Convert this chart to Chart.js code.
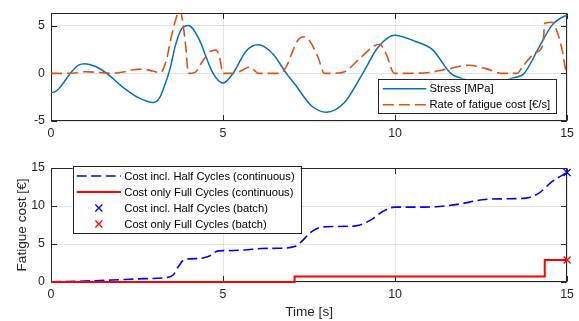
<!DOCTYPE html>
<html><head><meta charset="utf-8">
<script src="https://cdn.jsdelivr.net/npm/chart.js@4"></script>
<style>
html,body{margin:0;padding:0;background:#fff;}
#wrap{position:relative;width:579px;height:321px;overflow:hidden;}
canvas{position:absolute;left:0;}
#c1{top:0}
#c2{top:150px}
</style></head><body>
<div id="wrap"><canvas id="c1" width="579" height="150"></canvas><canvas id="c2" width="579" height="171"></canvas></div>
<script>
// ---- data ----
const timeStress = [0,0.15,0.32,0.56,0.8,0.99,1.28,1.62,2.06,2.54,2.97,3.15,3.3,3.46,3.62,3.8,3.99,4.33,4.5,4.71,5.0,5.29,5.68,6.02,6.45,6.84,7.1,7.57,8.0,8.53,9.06,9.5,9.98,10.56,11.1,11.62,12.06,12.7,13.4,13.75,14.18,14.57,14.96,15];
const stress     = [-2.04,-1.85,-1.2,0,0.86,1.02,0.75,0,-1.36,-2.55,-3.06,-2.6,-1.3,0.5,3.0,4.7,5.04,3.4,1.8,0,-1.02,0,2.39,3.0,2.04,0,-1.2,-3.4,-4.08,-3.06,0,2.72,4.02,3.4,2.45,0,-0.65,-1.3,-0.5,0,2.72,5.1,6.06,6.08];

const timeRate = [0,0.6,1.0,1.4,1.75,2.1,2.4,2.65,2.95,3.17,3.36,3.5,3.65,3.75,3.84,3.92,3.99,4.18,4.42,4.67,4.8,4.9,5.0,5.34,5.54,5.78,5.92,6.02,6.65,6.85,7.03,7.18,7.33,7.52,7.76,7.95,8.3,8.53,9.01,9.4,9.55,9.74,9.98,10.6,10.99,11.57,12.15,12.64,13.12,13.55,13.7,14.09,14.3,14.35,14.57,14.67,14.86,14.96,15];
const rate     = [0,0.02,0.18,0.1,0.02,0.15,0.38,0.45,0.25,0.05,1.5,3.9,5.96,6.6,5.1,2.7,0,0.1,1.36,2.39,2.45,1.7,0,0,0.3,0.68,0.3,0,0,0.8,2.4,3.5,3.85,3.4,1.7,0,0.03,0.17,1.7,2.9,3.06,2.04,0,0.02,0.1,0.5,0.86,0.5,0,0,0.68,2.2,3.06,5.27,5.37,4.77,2.4,0.34,0];

const timeHalf = [0,0.8,1.77,2.73,3.41,3.55,3.7,3.89,4.28,4.57,4.86,5.15,5.63,6.12,6.6,7.08,7.28,7.52,7.8,8.19,8.86,9.3,9.64,9.98,10.61,11.28,11.86,12.54,13.22,13.8,14.18,14.57,15];
const costHalf = [0.04,0.1,0.26,0.44,0.62,0.92,2.0,2.99,3.08,3.34,4.09,4.13,4.22,4.4,4.44,4.66,5.32,6.42,7.16,7.3,7.39,8.18,9.27,9.85,9.85,9.94,10.25,10.82,10.95,11.04,11.7,13.23,14.4];

const timeFull = [0,7.08,14.35,15];
const costFull = [0,0.72,2.9,2.9];

const batchTime = 15;
const batchHalf = 14.4;
const batchFull = 2.9;

const xTicks = [0,5,10,15];
const yTicksTop = [-5,0,5];
const yTicksBottom = [0,5,10,15];

// ---- styling / helpers ----
const FONT = '"Liberation Sans", Arial, Helvetica, sans-serif';
Chart.defaults.font.family = FONT;
Chart.defaults.color = '#262626';
const AX = '#262626';
const GRID = 'rgba(38,38,38,0.13)';
const pts = (xs, ys) => xs.map((x, i) => ({x: x, y: ys[i]}));

const boxPlugin = {
  id: 'matlabBox',
  beforeDatasetsDraw(chart) {
    const ctx = chart.ctx, a = chart.chartArea, sx = chart.scales.x, sy = chart.scales.y;
    const L = Math.round(a.left) + 0.5, R = Math.round(a.right) - 0.5;
    const T = Math.round(a.top) + 0.5, B = Math.round(a.bottom) - 0.5;
    const tl = 5.5;
    ctx.save();
    ctx.strokeStyle = AX; ctx.lineWidth = 1;
    ctx.beginPath();
    sx.ticks.forEach(t => {
      const p = Math.round(sx.getPixelForValue(t.value)) + 0.5;
      ctx.moveTo(p, B); ctx.lineTo(p, B - tl);
      ctx.moveTo(p, T); ctx.lineTo(p, T + tl);
    });
    sy.ticks.forEach(t => {
      const p = Math.round(sy.getPixelForValue(t.value)) + 0.5;
      ctx.moveTo(L, p); ctx.lineTo(L + tl, p);
      ctx.moveTo(R, p); ctx.lineTo(R - tl, p);
    });
    ctx.stroke();
    ctx.strokeRect(L, T, R - L, B - T);
    ctx.restore();
  }
};

const legendCfg = {
  c1: {
    anchor: 'right', dx: 11.3, dy: 8.3, width: 178, height: 34,
    firstRow: 10, rowGap: 16, sample: [5, 48.5], textX: 51.7,
    items: [
      {type: 'line', color: '#0072BD', width: 1.5, dash: [], text: 'Stress [MPa]'},
      {type: 'line', color: '#D95319', width: 1.6, dash: [11, 5], text: 'Rate of fatigue cost [€/s]'}
    ]
  },
  c2: {
    anchor: 'left', dx: 21.7, dy: -2.3, width: 228, height: 67,
    firstRow: 10.3, rowGap: 16, sample: [4, 48.3], textX: 51.6,
    items: [
      {type: 'line', color: '#0000FF', width: 1.6, dash: [10, 4.5], text: 'Cost incl. Half Cycles (continuous)'},
      {type: 'line', color: '#FF0000', width: 2, dash: [], text: 'Cost only Full Cycles (continuous)'},
      {type: 'mark', color: '#0000FF', text: 'Cost incl. Half Cycles (batch)'},
      {type: 'mark', color: '#FF0000', text: 'Cost only Full Cycles (batch)'}
    ]
  }
};

const legendPlugin = {
  id: 'boxLegend',
  afterDraw(chart) {
    const o = legendCfg[chart.canvas.id];
    if (!o) return;
    const ctx = chart.ctx, a = chart.chartArea;
    const x0 = o.anchor === 'right' ? a.right - o.dx - o.width : a.left + o.dx;
    const y0 = o.anchor === 'right' ? a.bottom - o.dy - o.height : a.top + o.dy;
    ctx.save();
    ctx.fillStyle = '#fff';
    ctx.fillRect(x0, y0, o.width, o.height);
    ctx.strokeStyle = AX; ctx.lineWidth = 1;
    ctx.strokeRect(Math.round(x0) + 0.5, Math.round(y0) + 0.5, Math.round(o.width), Math.round(o.height));
    ctx.font = '11.2px ' + FONT;
    ctx.textBaseline = 'middle';
    ctx.textAlign = 'left';
    o.items.forEach((it, i) => {
      const y = y0 + o.firstRow + i * o.rowGap;
      ctx.strokeStyle = it.color;
      if (it.type === 'line') {
        ctx.lineWidth = it.width;
        ctx.setLineDash(it.dash);
        ctx.beginPath();
        ctx.moveTo(x0 + o.sample[0], y); ctx.lineTo(x0 + o.sample[1], y);
        ctx.stroke();
        ctx.setLineDash([]);
      } else {
        const cx = x0 + (o.sample[0] + o.sample[1]) / 2, r = 3.5;
        ctx.lineWidth = 1.3;
        ctx.beginPath();
        ctx.moveTo(cx - r, y - r); ctx.lineTo(cx + r, y + r);
        ctx.moveTo(cx - r, y + r); ctx.lineTo(cx + r, y - r);
        ctx.stroke();
      }
      ctx.fillStyle = '#000';
      ctx.fillText(it.text, x0 + o.textX, y + 0.5);
    });
    ctx.restore();
  }
};

function xAxis(height, title) {
  const ax = {
    type: 'linear', min: 0, max: 15,
    afterBuildTicks: s => { s.ticks = xTicks.map(v => ({value: v})); },
    afterFit: s => { s.height = height; },
    grid: {color: GRID, drawTicks: false},
    border: {display: false},
    ticks: {padding: 5, color: AX, font: {size: 12.4}, maxRotation: 0, autoSkip: false}
  };
  if (title) ax.title = {display: true, text: title, color: AX, font: {size: 13.6}, padding: {top: 0, bottom: 1}};
  return ax;
}
function yAxis(min, max, ticks, title) {
  const ax = {
    type: 'linear', min: min, max: max,
    afterBuildTicks: s => { s.ticks = ticks.map(v => ({value: v})); },
    afterFit: s => { s.width = 51; },
    grid: {color: GRID, drawTicks: false},
    border: {display: false},
    ticks: {padding: 6, color: AX, font: {size: 12.4}, autoSkip: false}
  };
  if (title) ax.title = {display: true, text: title, color: AX, font: {size: 13.6}, padding: {top: 14.5, bottom: 0}};
  return ax;
}
const common = {
  responsive: false, animation: false, devicePixelRatio: 1,
  plugins: {legend: {display: false}, tooltip: {enabled: false}},
  elements: {point: {radius: 0}}
};

new Chart(document.getElementById('c1'), {
  type: 'line',
  data: {datasets: [
    {label: 'Stress [MPa]', data: pts(timeStress, stress), borderColor: '#0072BD', borderWidth: 1.5,
     pointRadius: 0, cubicInterpolationMode: 'monotone', order: 2},
    {label: 'Rate of fatigue cost [€/s]', data: pts(timeRate, rate), borderColor: '#D95319', borderWidth: 1.6,
     borderDash: [11, 5], pointRadius: 0, cubicInterpolationMode: 'monotone', order: 1}
  ]},
  options: Object.assign({}, common, {
    layout: {padding: {left: 0, right: 11, top: 10, bottom: 0}},
    scales: {x: xAxis(29), y: yAxis(-5, 6.3, yTicksTop)}
  }),
  plugins: [boxPlugin, legendPlugin]
});

new Chart(document.getElementById('c2'), {
  type: 'line',
  data: {datasets: [
    {label: 'Cost incl. Half Cycles (continuous)', data: pts(timeHalf, costHalf), borderColor: '#0000FF', borderWidth: 1.6,
     borderDash: [10, 4.5], pointRadius: 0, cubicInterpolationMode: 'monotone', clip: 2, order: 4},
    {label: 'Cost only Full Cycles (continuous)', data: pts(timeFull, costFull), borderColor: '#FF0000', borderWidth: 2,
     stepped: 'before', pointRadius: 0, clip: 2, order: 3},
    {label: 'Cost incl. Half Cycles (batch)', data: [{x: batchTime, y: batchHalf}], showLine: false,
     pointStyle: 'crossRot', pointRadius: 5, borderColor: '#0000FF', pointBorderWidth: 1.3, clip: false, order: 2},
    {label: 'Cost only Full Cycles (batch)', data: [{x: batchTime, y: batchFull}], showLine: false,
     pointStyle: 'crossRot', pointRadius: 5, borderColor: '#FF0000', pointBorderWidth: 1.3, clip: false, order: 1}
  ]},
  options: Object.assign({}, common, {
    layout: {padding: {left: 0, right: 11, top: 18, bottom: 0}},
    scales: {x: xAxis(39, 'Time [s]'), y: yAxis(0, 15, yTicksBottom, 'Fatigue cost [€]')}
  }),
  plugins: [boxPlugin, legendPlugin]
});
</script>
</body></html>
